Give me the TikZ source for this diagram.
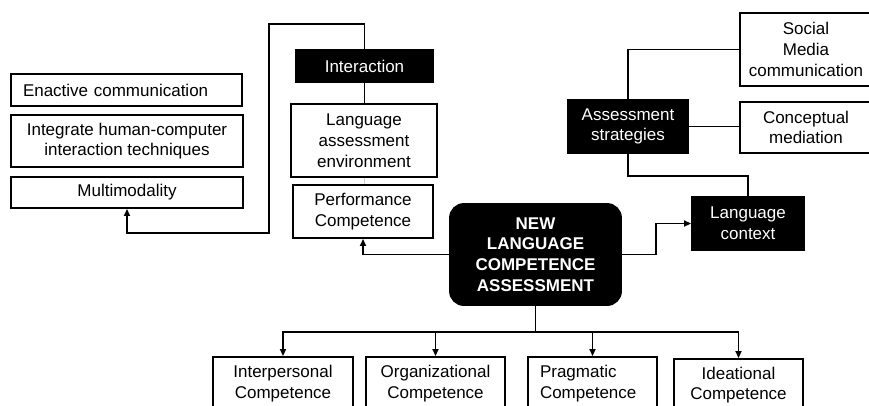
\documentclass[tikz,border=0pt]{standalone}
\usepackage{fontspec}
\setmainfont{Liberation Sans}
\usetikzlibrary{
    positioning,
    arrows.meta,
    calc
}

\tikzset{
    box/.style={draw=black, line width=1.9pt, fill=white, inner sep=0pt, align=center,
        font=\fontsize{17}{20.8}\selectfont},
    darkbox/.style={box, fill=black, text=white},
    mainbox/.style={darkbox, rounded corners=14pt, font=\fontsize{17}{20.8}\selectfont\bfseries},
    link/.style={line width=1.9pt, draw=black},
    arr/.style={link, -{Triangle[length=7pt,width=6pt]}}
}

\begin{document}
\begin{tikzpicture}[x=1pt, y=-1pt]
        \useasboundingbox[fill=white] (0,0) rectangle (869,405);

        % Left column
        \node[box, minimum width=231pt, minimum height=32pt, text width=207pt, align=left] (enactive) at (126.5,90) {Enactive communication};
        \node[box, minimum width=232pt, minimum height=52pt] (integrate) at (127,141) {Integrate human-computer\\interaction techniques};
        \node[box, minimum width=232pt, minimum height=31pt] (multimod) at (127,192.5) {Multimodality};

        % Interaction branch
        \node[darkbox, minimum width=137pt, minimum height=32pt] (interaction) at (364.5,66) {Interaction};
        \node[box, minimum width=146pt, minimum height=73pt] (environment) at (364,140.5) {Language\\assessment\\environment};
        \node[box, minimum width=140pt, minimum height=53pt] (performance) at (363,211.5) {Performance\\Competence};

        % Centre
        \node[mainbox, minimum width=171pt, minimum height=101pt] (nlca) at (535.5,254.5) {NEW\\LANGUAGE\\COMPETENCE\\ASSESSMENT};

        % Strategies and context
        \node[darkbox, minimum width=120pt, minimum height=53pt] (strategies) at (628,126.5) {Assessment\\strategies};
        \node[box, minimum width=132pt, minimum height=73pt] (social) at (806,49.5) {Social\\Media\\communication};
        \node[box, minimum width=132pt, minimum height=51pt] (mediation) at (806,127.5) {Conceptual\\mediation};
        \node[darkbox, minimum width=112pt, minimum height=53pt] (context) at (748,223.5) {Language\\context};

        % Competences at the bottom
        \node[box, minimum width=140pt, minimum height=53pt] (interpersonal) at (283,383.5) {Interpersonal\\Competence};
        \node[box, minimum width=139pt, minimum height=53pt] (organizational) at (435.5,383.5) {Organizational\\Competence};
        \node[box, minimum width=129pt, minimum height=53pt, text width=105pt, align=left] (pragmatic) at (592.5,383.5) {Pragmatic\\Competence};
        \node[box, minimum width=129pt, minimum height=52pt] (ideational) at (738.5,385) {Ideational\\Competence};

        % Connectors
        \draw[arr] (interaction.north) -- ++(0,-25) -| (269,233) -| (multimod.south);
        \draw[link] (interaction.south) -- (interaction.south |- environment.north);
        \draw[gray!35, line width=0.6pt] (environment.south) -- (environment.south |- performance.north);
        \draw[arr] (nlca.west) -| (performance.south);
        \draw[arr] (nlca.east) -- ++(34,0) |- (context.west);
        \draw[link] (strategies.north) |- (social.west);
        \draw[link] (strategies.east) -- (strategies.east -| mediation.west);
        \draw[link] (strategies.south) -- ++(0,22) -| (context.north);

        \draw[link] (nlca.south) -- ++(0,26) coordinate (bus);
        \draw[arr] (bus) -| (interpersonal.north);
        \draw[arr] (bus) -| (organizational.north);
        \draw[arr] (bus) -| (pragmatic.north);
        \draw[arr] (bus) -| (ideational.north);
    \end{tikzpicture}
\end{document}
